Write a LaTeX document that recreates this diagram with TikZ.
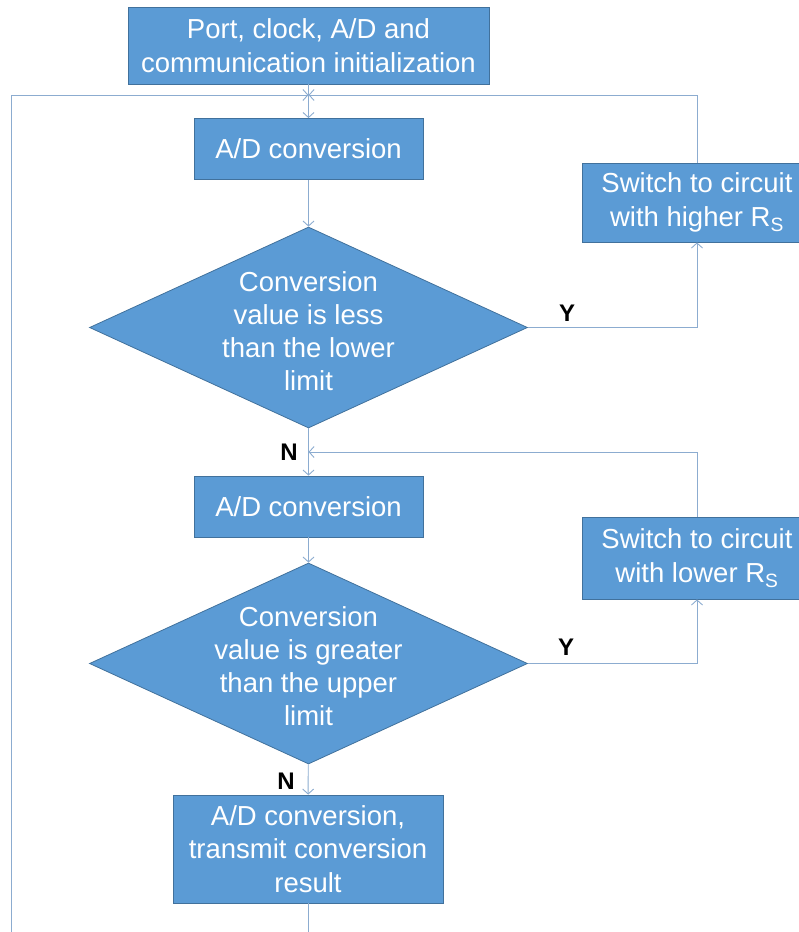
\documentclass[tikz,border=0pt]{standalone}
\usepackage{fontspec}
\setmainfont{Liberation Sans}
\usepackage{tikz}
\usetikzlibrary{shapes,arrows.meta,positioning,calc}

\definecolor{boxblue}{RGB}{91,155,213}
\definecolor{boxedge}{RGB}{65,113,156}
\definecolor{linkblue}{RGB}{140,172,208}

\begin{document}
\begin{tikzpicture}[x=1pt, y=-1pt,
    process/.style={rectangle, draw=boxedge, fill=boxblue, line width=0.8pt, text=white, align=center, inner sep=0pt, font=\fontsize{27.5}{33.5}\selectfont},
    decision/.style={diamond, draw=boxedge, fill=boxblue, line width=0.8pt, inner sep=0pt, minimum width=438pt, minimum height=201pt},
    decisiontext/.style={text=white, align=center, inner sep=0pt, font=\fontsize{27.5}{33}\selectfont},
    answer/.style={font=\fontsize{24}{28}\selectfont\bfseries},
    link/.style={draw=linkblue, line width=0.9pt},
    arrow/.style={link, -{Straight Barb[length=5pt, width=11pt]}}
]
\useasboundingbox (0,0) rectangle (799,932);

% Initialization
\node[process, minimum width=361pt, minimum height=77pt] (init) at (308.5,45.5) {Port, clock, A/D and\\communication initialization};

% First check: lower limit
\node[process, minimum width=229pt, minimum height=61pt] (ad1) at (308.5,149) {A/D conversion};
\node[decision] (less) at (308.5,327.5) {};
\node[decisiontext] (lesstext) at (308.5,331) {Conversion\\value is less\\than the lower\\limit};
\node[process, minimum width=230pt, minimum height=79pt] (higher) at (697,202.5) {Switch to circuit\\with higher R\textsubscript{S}};

% Second check: upper limit
\node[process, minimum width=229pt, minimum height=61pt] (ad2) at (308.5,506.5) {A/D conversion};
\node[decision] (greater) at (308.5,663.5) {};
\node[decisiontext] (greatertext) at (308.5,666) {Conversion\\value is greater\\than the upper\\limit};
\node[process, minimum width=230pt, minimum height=82pt] (lower) at (697,558) {Switch to circuit\\with lower R\textsubscript{S}};

% Result
\node[process, minimum width=270pt, minimum height=108pt] (final) at (308,849) {A/D conversion,\\transmit conversion\\result};

% Y / N labels
\node[answer] (y1) at (567,313) {Y};
\node[answer] (n1) at (289,452) {N};
\node[answer] (y2) at (566,647) {Y};
\node[answer] (n2) at (286,781) {N};

% Junctions
\coordinate (join1) at (308.5,95);
\coordinate (join2) at (308.5,452);
\coordinate (loopstart) at (11,940);
\coordinate (tail) at (308,940);

% Connectors
\draw[arrow] (init) -- (ad1);
\draw[arrow] (ad1) -- (less);
\draw[arrow] (less.east) -| (higher.south);
\draw[arrow] (higher.north) |- (join1);
\draw[arrow] (loopstart) |- (join1);
\draw[arrow] (less) -- (ad2);
\draw[arrow] (lower.north) |- (join2);
\draw[arrow] (ad2) -- (greater);
\draw[arrow] (greater.east) -| (lower.south);
\draw[arrow] (greater) -- (final);
\draw[link] (final) -- (tail);

\end{tikzpicture}
\end{document}
